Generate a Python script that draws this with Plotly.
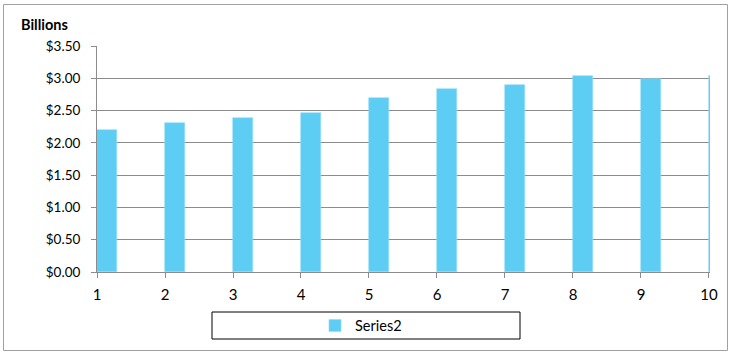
import plotly.graph_objects as go

# Values by period, in billions of dollars
periods = [1, 2, 3, 4, 5, 6, 7, 8, 9, 10]
series2 = [2.20, 2.31, 2.38, 2.46, 2.69, 2.83, 2.89, 3.03, 2.99, 3.04]
y_ticks = [0, 0.5, 1.0, 1.5, 2.0, 2.5, 3.0, 3.5]
y_tick_text = ["$0.00", "$0.50", "$1.00", "$1.50", "$2.00", "$2.50", "$3.00", "$3.50"]

BAR = "#5dcdf4"
GRID = "#8c8c8c"
FONT = "Lato"

fig = go.Figure()
fig.add_trace(go.Bar(
    x=periods, y=series2, name="Series2",
    width=0.3, offset=0,
    marker=dict(color=BAR, line=dict(color="#8fdcf8", width=0.6)),
    showlegend=True,
))

W, H = 731, 354
L, R, T, B = 97, 21, 46, 82
pw, ph = W - L - R, H - T - B

def px(x):
    return (x - L) / pw

def py(y):
    return (H - B - y) / ph

fig.update_layout(
    width=W, height=H,
    margin=dict(l=L, r=R, t=T, b=B),
    paper_bgcolor="white", plot_bgcolor="white",
    font=dict(family=FONT, size=13, color="#000000"),
    bargap=0,
    xaxis=dict(
        range=[1, 10.015], tickmode="array", tickvals=periods,
        showgrid=False, showline=True, linecolor=GRID, linewidth=1,
        ticks="outside", ticklen=5, tickcolor=GRID,
        tickfont=dict(family=FONT, size=15), zeroline=False,
        ticklabelstandoff=4,
    ),
    yaxis=dict(
        range=[0, 3.5], tickmode="array", tickvals=y_ticks, ticktext=y_tick_text,
        showgrid=True, gridcolor=GRID, gridwidth=1,
        showline=True, linecolor=GRID, linewidth=1,
        ticks="outside", ticklen=5, tickcolor=GRID,
        tickfont=dict(family=FONT, size=13.5), zeroline=False,
        ticklabelstandoff=8,
    ),
    legend=dict(
        orientation="h", x=px(361), xanchor="center",
        y=py(325.5), yanchor="middle",
        bgcolor="rgba(0,0,0,0)", borderwidth=0,
        font=dict(family=FONT, size=14.5),
        itemwidth=30,
    ),
    annotations=[dict(
        text="<b>Billions</b>", xref="paper", yref="paper",
        x=px(19), y=py(24), xanchor="left", yanchor="middle",
        showarrow=False, font=dict(family=FONT, size=14.5, color="#000000"),
    )],
    shapes=[
        # outer chart frame
        dict(type="rect", xref="paper", yref="paper",
             x0=px(3.5), x1=px(727.5), y0=py(350.5), y1=py(4.5),
             line=dict(color="#a0a0a0", width=1), layer="below"),
        # legend frame
        dict(type="rect", xref="paper", yref="paper",
             x0=px(212), x1=px(520), y0=py(339), y1=py(312),
             line=dict(color="#000000", width=1)),
    ],
)

fig.write_html("out.html")
